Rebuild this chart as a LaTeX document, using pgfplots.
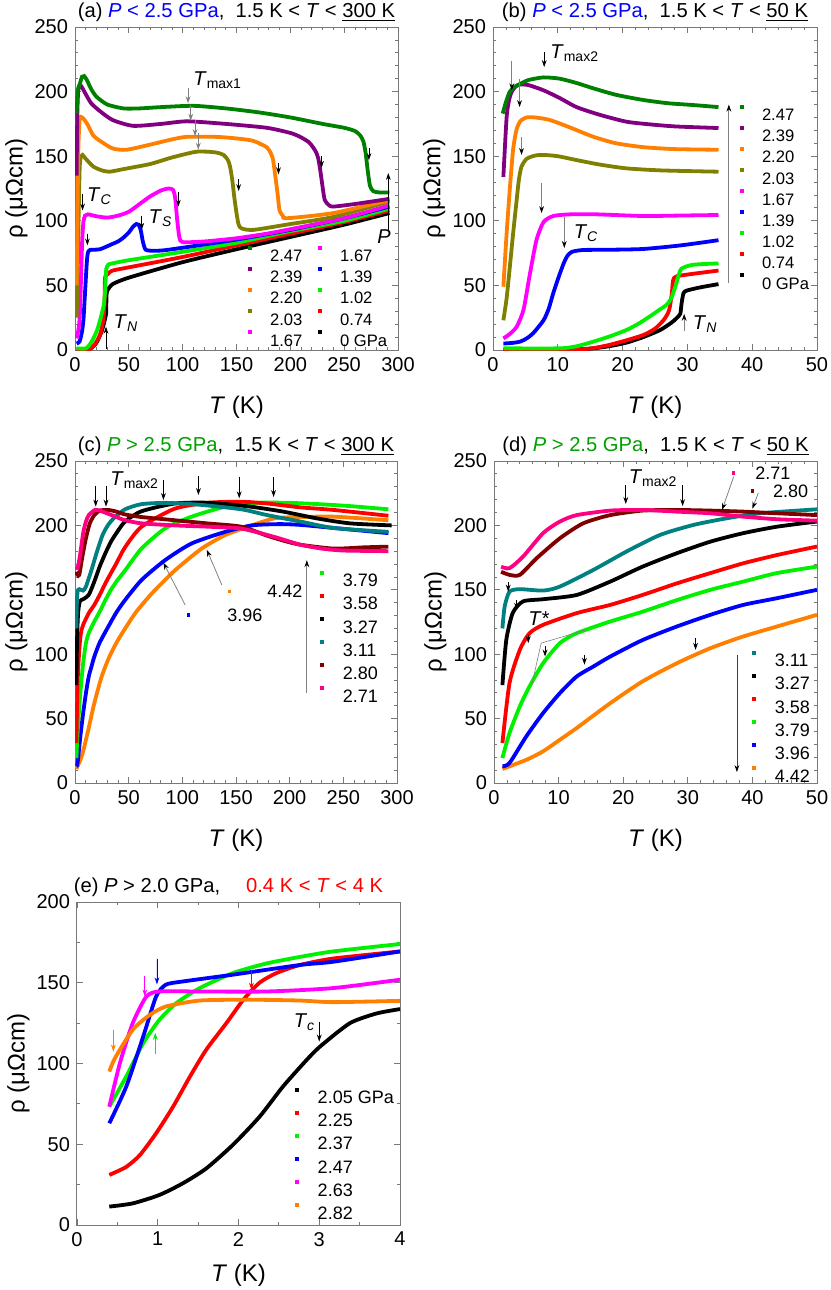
\documentclass[border=0pt]{standalone}
\usepackage{pgfplots}
\pgfplotsset{compat=1.18}
\usepackage{fontspec}
\setmainfont{Liberation Sans}
\usetikzlibrary{arrows.meta}
\definecolor{cDG}{RGB}{0,128,0}
\definecolor{cPU}{RGB}{128,0,128}
\definecolor{cOR}{RGB}{255,128,0}
\definecolor{cOL}{RGB}{128,128,0}
\definecolor{cMA}{RGB}{255,0,255}
\definecolor{cBL}{RGB}{0,0,255}
\definecolor{cLG}{RGB}{0,240,0}
\definecolor{cRE}{RGB}{255,0,0}
\definecolor{cTE}{RGB}{0,128,128}
\definecolor{cMR}{RGB}{128,0,0}
\definecolor{cRO}{RGB}{255,0,128}
\definecolor{cTG}{RGB}{0,160,0}
\definecolor{cFR}{RGB}{120,120,120}
\newcommand{\Tsub}[1]{\textit{T}\textsubscript{#1}}
\newcommand{\legA}{\fontsize{8.3}{10}\selectfont}
\newcommand{\legB}{\fontsize{9}{11}\selectfont}
\tikzset{ar/.style={-{Stealth[length=3.5pt,width=2.4pt]}, line width=0.4pt},
         gar/.style={-{Stealth[length=3.5pt,width=2.4pt,black]}, line width=0.4pt, draw=gray},
         lgr/.style={-{Stealth[length=3.5pt,width=2.4pt]}, line width=0.4pt, draw=gray, fill=gray},
         annot/.style={anchor=base west, inner sep=0pt, font=\fontsize{10}{12}\selectfont}}
\pgfplotsset{
  panel/.style={
    scale only axis, anchor=south west,
    axis line style={cFR, line width=0.5pt},
    every tick/.style={cFR, line width=0.4pt},
    major tick length=3pt, minor tick length=1.7pt,
    tick align=inside, xtick pos=both, ytick pos=both,
    minor x tick num=4, minor y tick num=4,
    ticklabel style={font=\fontsize{10}{12}\selectfont},
    /pgf/number format/assume math mode=true,
    xlabel={\textit{T} (K)}, ylabel={ρ (μΩcm)},
    label style={font=\fontsize{12}{14}\selectfont},
    xlabel style={at={(axis description cs:0.5,-0.12)}, anchor=north},
    ylabel style={at={(axis description cs:-0.125,0.5)}, anchor=south},
    title style={font=\fontsize{10.1}{12}\selectfont, at={(axis description cs:0.5,1)}, anchor=south, yshift=-7pt},
    ymin=0, ymax=250, ytick={0,50,...,250},
    every axis plot/.append style={line width=1.9pt, smooth, tension=0.4, no markers},
    legend image code/.code={\draw[##1, line width=0.2pt, mark=square*, mark size=0.75pt, only marks] plot coordinates {(0pt,0.36em)};},
    legend cell align=left,
  },
  legA/.style={legend style={draw=none, fill=none, inner sep=0pt, outer sep=0pt, font=\legA,
     nodes={inner sep=0pt, text height=0.72em, text depth=0pt}, row sep=2.6pt,
     /tikz/every odd column/.append style={column sep=9.3pt}}},
  legB/.style={legend style={draw=none, fill=none, inner sep=0pt, outer sep=0pt, font=\legB,
     nodes={inner sep=0pt, text height=0.72em, text depth=0pt}, row sep=3.6pt,
     /tikz/every odd column/.append style={column sep=9.7pt}}},
}
\begin{document}
\begin{tikzpicture}
\useasboundingbox (0,0) rectangle (415pt,-645pt);
%================ (a)
\begin{axis}[panel, legA, at={(37.5pt,-175pt)}, width=161.5pt, height=161.5pt,
  xmin=0, xmax=300, xtick={0,50,...,300},
  title={(a) \textcolor{blue}{\textit{P} < 2.5 GPa},\ \ 1.5 K < \textit{T} < \underline{300 K}},
  legend columns=2,
  legend style={at={(0.537,0.3226)}, anchor=north west, /tikz/every even column/.append style={column sep=8.1pt}}]
\addlegendimage{color=cDG}\addlegendentry{2.47}
\addlegendimage{color=cMA}\addlegendentry{1.67}
\addlegendimage{color=cPU}\addlegendentry{2.39}
\addlegendimage{color=cBL}\addlegendentry{1.39}
\addlegendimage{color=cOR}\addlegendentry{2.20}
\addlegendimage{color=cLG}\addlegendentry{1.02}
\addlegendimage{color=cOL}\addlegendentry{2.03}
\addlegendimage{color=cRE}\addlegendentry{0.74}
\addlegendimage{color=cMA}\addlegendentry{1.67}
\addlegendimage{color=black}\addlegendentry{0 GPa}
\addplot[black, forget plot] coordinates {(1.5,0.5) (10,0.8) (15,1.3) (20,5.7) (25,15) (28,24.5) (28.9,28) (29.1,36) (29.4,44) (30,46) (35,51) (50,56) (100,68) (150,78) (200,87.5) (250,97) (292,106)};
\addplot[cRE, forget plot] coordinates {(1.5,0.3) (12.9,0.5) (18,4) (23.2,11.6) (26.3,23) (27.3,33.5) (27.6,44) (27.8,54) (28.3,57) (30.9,59) (34.5,61.4) (50,64) (100,72) (150,81) (200,90) (250,99) (292,108)};
\addplot[cLG, forget plot] coordinates {(1.5,1.3) (10.3,1.3) (15.5,6.5) (20.6,15.5) (24.2,26) (26.8,35) (27.8,44) (28.3,51.6) (28.6,57) (29.1,63) (30.9,66) (34.5,67) (50,69.5) (100,76) (150,83) (200,92) (250,100) (292,109.5)};
\addplot[cBL, forget plot] coordinates {(1.5,5) (4.2,6.5) (6.2,13) (7.8,23) (9.3,44) (10.9,67) (11.9,75) (13.9,77.4) (23.2,78) (34.5,82) (40,84) (45,87) (50,91) (54,95.5) (57,97.5) (59,97) (61,93) (63,84) (65,78.5) (68,77) (85,77.4) (150,85.5) (200,93) (250,102) (292,111)};
\addplot[cMA, forget plot] coordinates {(1.5,9) (3.6,18) (4.7,31) (5.7,59) (6.7,85) (7.8,99) (9.3,104) (12,105) (20,103.5) (30,102.5) (40,104) (50,107) (60,113) (70,119) (80,123.5) (87,125) (91,124) (93,118) (95,100) (97,87) (100,83.5) (120,84) (150,86.5) (178,90) (200,93.5) (250,102) (292,112)};
\addplot[cOL, forget plot] coordinates {(1.5,25) (2.5,60) (3.6,115) (4.4,142) (5.5,150) (7,151) (10,148) (17,142) (25,139) (32,138) (45,140) (70,144) (90,149) (113,153.5) (130,153) (138,151) (142,147) (144,142) (146,132) (148,118) (150,106) (152,97) (155,94) (166,93) (200,97.5) (240,103) (292,115)};
\addplot[cOR, forget plot] coordinates {(1.5,50) (2.1,90) (3.1,155) (4.2,177) (5.2,180.5) (8,179) (12,174) (17,166) (23,162) (35,156) (48,155) (70,159) (90,163) (104,165) (130,165) (147,164) (165,162) (178,157) (182,152) (184,147) (186,135) (188,122) (190,108) (193,104) (197,102) (240,106) (292,116)};
\addplot[cPU, forget plot] coordinates {(1.5,135) (2.1,180) (2.9,200) (4.2,205) (6,204) (10,198) (15,191) (23,185) (35,178) (54,173.5) (80,175) (104,177) (140,175) (178,172) (200,168) (209,165) (217,161) (221,157) (224,153) (226,148) (228,138) (230,126) (232,116) (236,112) (240,111) (260,113) (292,117)};
\addplot[cDG, forget plot] coordinates {(1.5,183) (2.6,201) (4.2,205) (6.5,211.5) (8.5,212) (11,209) (15,202) (20,196) (30,190) (45,187) (60,187) (80,188) (110,189) (140,187) (170,184) (200,180) (230,175) (250,172) (260,169.5) (265,166) (268,161) (270,152) (272,138) (274,127) (277,123) (282,122) (292,122)};
\node[annot] at (axis cs:109.6,205) {\Tsub{max1}};
\draw[lgr] (axis cs:105,203) -- (axis cs:105,191);
\draw[lgr] (axis cs:107.5,190) -- (axis cs:107.5,177.5);
\draw[lgr] (axis cs:111.5,178) -- (axis cs:111.5,165.5);
\draw[lgr] (axis cs:114.5,168) -- (axis cs:114.5,155);
\draw[ar] (axis cs:273,156) -- (axis cs:273,147);
\draw[ar] (axis cs:229,150) -- (axis cs:229,141);
\draw[ar] (axis cs:189,145) -- (axis cs:189,136);
\draw[ar] (axis cs:152,132) -- (axis cs:152,123);
\draw[ar] (axis cs:96,122) -- (axis cs:96,111);
\draw[ar] (axis cs:62,104) -- (axis cs:62,93);
\draw[ar] (axis cs:7,121) -- (axis cs:7,108);
\draw[ar] (axis cs:11.5,90) -- (axis cs:11.5,81);
\draw[ar] (axis cs:28.8,1) -- (axis cs:28.8,18);
\draw[ar] (axis cs:291,92) -- (axis cs:291,137);
\node[annot] at (axis cs:11,115) {\Tsub{\textit{C}}};
\node[annot] at (axis cs:68,98) {\Tsub{\textit{S}}};
\node[annot] at (axis cs:35.5,17) {\Tsub{\textit{N}}};
\node[inner sep=0pt, font=\fontsize{10}{12}\selectfont] at (axis cs:287,88) {\textit{P}};
\end{axis}
%================ (b)
\begin{axis}[panel, legA, at={(246.5pt,-175pt)}, width=162pt, height=161.5pt,
  xmin=0, xmax=50, xtick={0,10,...,50},
  title={(b) \textcolor{blue}{\textit{P} < 2.5 GPa},\ \ 1.5 K < \textit{T} < \underline{50 K}},
  legend style={at={(0.7636,0.759)}, anchor=north west}]
\addlegendimage{color=cDG}\addlegendentry{2.47}
\addlegendimage{color=cPU}\addlegendentry{2.39}
\addlegendimage{color=cOR}\addlegendentry{2.20}
\addlegendimage{color=cOL}\addlegendentry{2.03}
\addlegendimage{color=cMA}\addlegendentry{1.67}
\addlegendimage{color=cBL}\addlegendentry{1.39}
\addlegendimage{color=cLG}\addlegendentry{1.02}
\addlegendimage{color=cRE}\addlegendentry{0.74}
\addlegendimage{color=black}\addlegendentry{0 GPa}
\addplot[black, forget plot] coordinates {(1.6,0.2) (12,0.4) (15.5,1.3) (18,3) (20.6,5.7) (23.2,10) (25.8,15.5) (27.5,21) (28.3,24.5) (28.9,28) (29.1,36) (29.4,44) (29.9,46) (32,48.5) (34.8,51)};
\addplot[cRE, forget plot] coordinates {(1.6,0.2) (12.9,0.5) (15.5,1.5) (18,4) (20.6,7.5) (23.2,11.6) (25,16.5) (26.3,23) (27.0,28.5) (27.3,33.5) (27.6,44) (27.8,54) (28.3,57) (30.9,59) (34.8,61.5)};
\addplot[cLG, forget plot] coordinates {(1.6,1.3) (10.3,1.3) (13,3) (15.5,6.5) (18,10.5) (20.6,15.5) (22.5,20.5) (24.2,26) (25.5,30.5) (26.8,35) (27.5,40) (27.8,44) (28.3,51.6) (28.6,57) (29.1,63) (30.9,66) (34.8,67)};
\addplot[cBL, forget plot] coordinates {(1.6,5) (3,5.5) (4.2,6.5) (5.2,9) (6.2,13) (7.8,23) (8.6,32) (9.3,44) (10.1,56) (10.9,67) (11.5,73) (12.2,76) (13.9,77.4) (18,77.6) (23.2,78.2) (29,81) (34.8,85)};
\addplot[cMA, forget plot] coordinates {(1.6,9) (2.5,12) (3.65,18) (4.7,31) (5.7,59) (6.7,85) (7.8,99) (9.3,103.7) (11.9,105) (16,105) (23.2,103.7) (28,104) (34.8,104.5)};
\addplot[cOL, forget plot] coordinates {(1.6,23) (2.1,40) (2.6,64.5) (3.1,90) (3.65,116) (4.0,132) (4.4,142) (5.2,148) (6.5,150.5) (7.8,151) (10,150) (12.9,147) (16.5,143.5) (20.6,140.6) (26,139) (34.8,138)};
\addplot[cOR, forget plot] coordinates {(1.6,49) (2.1,90) (2.6,125) (3.1,155) (3.6,170) (4.2,177) (5.2,180) (6.5,180) (8.8,178) (12,172) (15.5,165) (19,160) (23.2,157) (28,155.5) (34.8,155)};
\addplot[cPU, forget plot] coordinates {(1.6,134) (2.1,180) (2.5,194) (2.9,200) (3.5,204) (4.2,205.5) (5.5,205) (7.8,201) (10.3,195) (12.9,188) (16.5,182) (20.6,176.7) (24.5,174.5) (28.3,173) (34.8,171.8)};
\addplot[cDG, forget plot] coordinates {(1.5,183) (2.0,192) (2.6,200) (3.3,203.5) (4.2,206) (5.5,209) (7.8,211) (10.3,210) (13,206.5) (15.5,202.5) (19,197.5) (23.2,193.5) (27,191) (30.9,189.6) (34.8,188)};
\node[annot] at (axis cs:8.8,225.7) {\Tsub{max2}};
\draw[ar] (axis cs:7.9,231) -- (axis cs:7.9,219);
\draw[gar] (axis cs:2.9,224) -- (axis cs:2.9,201);
\draw[gar] (axis cs:4.1,210) -- (axis cs:4.1,188);
\draw[gar] (axis cs:4.4,165) -- (axis cs:4.4,151);
\draw[gar] (axis cs:7.5,129) -- (axis cs:7.5,106);
\draw[gar] (axis cs:11,103) -- (axis cs:11,79);
\node[annot] at (axis cs:12.4,86) {\Tsub{\textit{C}}};
\node[annot] at (axis cs:30.8,15.5) {\Tsub{\textit{N}}};
\draw[gar] (axis cs:29.5,15) -- (axis cs:29.5,28);
\draw[gar] (axis cs:36.4,52) -- (axis cs:36.4,190);
\end{axis}
%================ (c)
\begin{axis}[panel, legB, at={(37.5pt,-391.5pt)}, width=161pt, height=161pt,
  xmin=0, xmax=300, xtick={0,50,...,300},
  title={(c) \textcolor{cTG}{\textit{P} > 2.5 GPa},\ \ 1.5 K < \textit{T} < \underline{300 K}},
  legend style={at={(0.762,0.6586)}, anchor=north west}]
\addlegendimage{color=cLG}\addlegendentry{3.79}
\addlegendimage{color=cRE}\addlegendentry{3.58}
\addlegendimage{color=black}\addlegendentry{3.27}
\addlegendimage{color=cTE}\addlegendentry{3.11}
\addlegendimage{color=cMR}\addlegendentry{2.80}
\addlegendimage{color=cRO}\addlegendentry{2.71}
\addplot[cOR, forget plot] coordinates {(1.3,10.9) (5,18) (7.6,24.6) (10.2,33.6) (12.8,42.7) (18,62) (24.8,82.5) (32,98) (40.4,111.5) (56,131.7) (71.4,147) (93,165) (118,182) (140,192.5) (164.6,200) (186,205.5) (210,206.5) (241,206.8) (292,204)};
\addplot[cBL, forget plot] coordinates {(1.3,13) (2.4,15.5) (5,36.2) (7.6,54.3) (10.2,69.8) (12.8,82.7) (15.4,90.5) (18,98.2) (23,109) (31,121.4) (38.6,132.5) (46.6,142) (62,157.6) (83.9,173) (108.7,186) (140,195) (164.6,200) (190,201) (210,200.4) (241,198) (292,194)};
\addplot[cLG, forget plot] coordinates {(1.3,19.4) (2.4,38.8) (4,59.5) (5.5,75) (7.6,93) (10.2,108.6) (12.8,116.3) (18,125.4) (23,133) (28.3,142) (33.5,150) (38.6,156.4) (46.6,165) (62,182) (84,197.7) (108.7,206.8) (140,214.5) (171,217.6) (200,217.5) (225,216.6) (256,215) (292,212.5)};
\addplot[cRE, forget plot] coordinates {(1.3,31) (2.4,77.6) (4,103.4) (5.5,116.3) (7.6,122.8) (12.8,131.9) (18,138.3) (23,146) (28.3,155) (33.5,163) (38.6,170.6) (46.6,183) (62,199) (93,213) (124,217.6) (155,218.4) (179,217) (210,214) (241,212) (292,207.5)};
\addplot[black, forget plot] coordinates {(1.3,76) (1.9,111) (2.9,132) (4.5,141) (7.6,142.7) (12.8,146) (18,156.4) (23,168) (28.3,178.4) (33.5,187.4) (38.6,194) (46.6,203) (62,211) (93,217) (124,217.6) (163,214.6) (194,210.7) (225,205.5) (256,201.6) (295,200)};
\addplot[cTE, forget plot] coordinates {(1.3,120) (1.65,137) (2.4,148.6) (4,150.5) (7.6,149.4) (10.2,152.5) (15.4,165.5) (20.5,179.7) (25.7,192.6) (30.9,200.4) (36,205.5) (46.6,212.5) (62,216.5) (85,217.5) (116.6,216) (155,212.5) (179,208) (210,203) (241,198) (292,195)};
\addplot[cMR, forget plot] coordinates {(1.1,164) (2.4,161.6) (4,161.6) (6.6,174.5) (10.2,190) (13.8,201.6) (18,208) (23,211.5) (31,212) (38.6,210.7) (46.6,208.5) (62,206.5) (93,204) (124,201.5) (155,199) (179,192) (195,188) (210,185) (241,182) (270,183) (292,183.5)};
\addplot[cRO, forget plot] coordinates {(1.1,168) (2.4,166.8) (4.5,175.8) (7.6,194) (10.2,203) (12.8,208) (18.6,212) (23,211.5) (31,209) (38.6,206.5) (46.6,204) (62,201.6) (93,200) (124,199) (155,197.5) (186,191) (210,185) (230,182) (250,180.5) (292,180)};
\node[annot] at (axis cs:32.6,230.6) {\Tsub{max2}};
\draw[ar] (axis cs:19.3,230.6) -- (axis cs:19.3,214.6);
\draw[ar] (axis cs:28.9,230.6) -- (axis cs:28.9,214.6);
\draw[ar] (axis cs:82.4,235.3) -- (axis cs:82.4,219.7);
\draw[ar] (axis cs:115,238.4) -- (axis cs:115,223.6);
\draw[ar] (axis cs:153,237.8) -- (axis cs:153,221);
\draw[ar] (axis cs:185,237.8) -- (axis cs:185,222);
\draw[gar] (axis cs:102.6,138.3) -- (axis cs:82.4,171);
\draw[gar] (axis cs:136.8,153.8) -- (axis cs:122.8,181);
\node[anchor=base west, inner sep=0pt, font=\legB] at (axis cs:142.0,144) {\textcolor{cOR}{\rule[2.4pt]{1.6pt}{1.6pt}}\hspace{18.2pt}4.42};
\node[anchor=base west, inner sep=0pt, font=\legB] at (axis cs:103.8,125.4) {\textcolor{cBL}{\rule[2.4pt]{1.6pt}{1.6pt}}\hspace{18.7pt}3.96};
\draw[gar] (axis cs:216,70) -- (axis cs:216,173);
\end{axis}
%================ (d)
\begin{axis}[panel, legB, at={(247pt,-391.5pt)}, width=161.5pt, height=161pt,
  xmin=0, xmax=50, xtick={0,10,...,50},
  title={(d) \textcolor{cTG}{\textit{P} > 2.5 GPa},\ \ 1.5 K < \textit{T} < \underline{50 K}},
  legend style={at={(0.8,0.41)}, anchor=north west}]
\addlegendimage{color=cTE}\addlegendentry{3.11}
\addlegendimage{color=black}\addlegendentry{3.27}
\addlegendimage{color=cRE}\addlegendentry{3.58}
\addlegendimage{color=cLG}\addlegendentry{3.79}
\addlegendimage{color=cBL}\addlegendentry{3.96}
\addlegendimage{color=cOR}\addlegendentry{4.42}
\addplot[cOR, forget plot] coordinates {(1.3,10.9) (5,18) (7.6,24.6) (10.2,33.6) (12.8,42.7) (18,62) (23,78.9) (28.3,93) (33.5,104.7) (38.6,113.8) (43.8,121.5) (50,130.6)};
\addplot[cBL, forget plot] coordinates {(1.3,13) (2.4,15.5) (5,36.2) (7.6,54.3) (10.2,69.8) (12.8,82.7) (15.4,90.5) (18,98.2) (23,111) (28.3,121.5) (33.5,130.6) (38.6,138.3) (43.8,143.5) (50,150)};
\addplot[cLG, forget plot] coordinates {(1.3,19.4) (2.4,38.8) (4,59.5) (5.5,75) (7.6,93) (10.2,108.6) (12.8,116.3) (18,125.4) (23,133) (28.3,142) (33.5,150) (38.6,156.4) (43.8,163) (50,168)};
\addplot[cRE, forget plot] coordinates {(1.3,31) (2.4,77.6) (4,103.4) (5.5,116.3) (7.6,122.8) (12.8,131.9) (18,138.3) (23,146) (28.3,155) (33.5,163) (38.6,170.6) (43.8,177) (50,183.6)};
\addplot[black, forget plot] coordinates {(1.3,76) (1.9,111) (2.9,132) (4.5,141) (7.6,142.7) (12.8,146) (18,156.4) (23,168) (28.3,178.4) (33.5,187.4) (38.6,194) (43.8,199) (50,203)};
\addplot[cTE, forget plot] coordinates {(1.3,120) (1.65,137) (2.4,148.6) (4,150.5) (7.6,149.4) (10.2,152.5) (15.4,165.5) (20.5,179.7) (25.7,192.6) (30.9,200.4) (36,205.5) (41.2,209.4) (50,212.5)};
\addplot[cMR, forget plot] coordinates {(1.1,164) (2.4,161.6) (4,161.6) (6.6,174.5) (10.2,190) (13.8,201.6) (18,208) (23,211.5) (28.3,212) (33.5,211.5) (38.6,210.7) (43.8,209.4) (50,208)};
\addplot[cRO, forget plot] coordinates {(1.1,168) (2.4,166.8) (4.5,175.8) (7.6,194) (10.2,203) (12.8,208) (18,211.5) (23,212) (28.3,210.7) (33.5,209.4) (38.6,206.8) (43.8,204.8) (50,203.7)};
\node[annot] at (axis cs:20.8,232.7) {\Tsub{max2}};
\draw[ar] (axis cs:20.4,231) -- (axis cs:20.4,216.6);
\draw[ar] (axis cs:29.2,231) -- (axis cs:29.2,215);
\draw[gar] (axis cs:37.1,237.8) -- (axis cs:35.3,212);
\draw[gar] (axis cs:40.9,225) -- (axis cs:40,213);
\node[anchor=base west, inner sep=0pt, font=\legB] at (axis cs:36.75,235.7) {\textcolor{cRO}{\rule[2.4pt]{1.6pt}{1.6pt}}\hspace{10.2pt}2.71};
\node[anchor=base west, inner sep=0pt, font=\legB] at (axis cs:39.65,221.7) {\textcolor{cMR}{\rule[2.4pt]{1.6pt}{1.6pt}}\hspace{9.7pt}2.80};
\draw[ar] (axis cs:2.2,156) -- (axis cs:2.2,148.6);
\draw[ar] (axis cs:3.5,142) -- (axis cs:3.5,134.4);
\draw[ar] (axis cs:5.3,115) -- (axis cs:5.3,108.6);
\draw[ar] (axis cs:7.9,106) -- (axis cs:7.9,98.2);
\draw[ar] (axis cs:14,99.5) -- (axis cs:14,91.8);
\draw[ar] (axis cs:31.2,112.5) -- (axis cs:31.2,103.4);
\node[annot] at (axis cs:5.27,122) {\textit{T}*};
\draw[gray, line width=0.3pt] (axis cs:14.3,119) -- (axis cs:7.3,108.6) -- (axis cs:5.8,75);
\draw[gar, draw=darkgray] (axis cs:37.6,99.4) -- (axis cs:37.6,8.5);
\end{axis}
%================ (e)
\begin{axis}[panel, legB, at={(38.5pt,-612.5pt)}, width=161.5pt, height=161.5pt,
  xmin=0, xmax=4, xtick={0,1,...,4}, minor x tick num=1,
  ymin=0, ymax=200, ytick={0,50,...,200}, minor y tick num=1,
  xlabel style={at={(axis description cs:0.5,-0.099)}},
  title style={xshift=-5pt},
  title={(e) \textit{P} > 2.0 GPa,\quad\ \textcolor{red}{0.4 K < \textit{T} < 4 K}},
  legend style={at={(0.676,0.4248)}, anchor=north west}]
\addlegendimage{color=black}\addlegendentry{2.05 GPa}
\addlegendimage{color=cRE}\addlegendentry{2.25}
\addlegendimage{color=cLG}\addlegendentry{2.37}
\addlegendimage{color=cBL}\addlegendentry{2.47}
\addlegendimage{color=cMA}\addlegendentry{2.63}
\addlegendimage{color=cOR}\addlegendentry{2.82}
\addplot[black, forget plot] coordinates {(0.4,11.4) (0.69,13.4) (1.02,18.6) (1.31,25.8) (1.6,35) (1.93,49.6) (2.26,67) (2.55,85.7) (2.84,102) (3.01,110.5) (3.38,125) (3.71,131) (4,133.7)};
\addplot[cRE, forget plot] coordinates {(0.4,31) (0.61,36) (0.78,43.4) (0.98,56.8) (1.19,73.3) (1.4,92) (1.6,108.5) (1.85,125) (2.06,139.5) (2.26,150) (2.47,156) (2.76,161) (3.17,165) (4,169.4)};
\addplot[cLG, forget plot] coordinates {(0.4,73.3) (0.61,92) (0.82,112.6) (1.02,127) (1.23,137.4) (1.52,146.7) (1.93,156) (2.35,162) (2.76,166) (3.17,169.4) (4,174)};
\addplot[cBL, forget plot] coordinates {(0.4,63) (0.61,85.7) (0.82,116.7) (0.98,141.5) (1.1,148.8) (1.31,150.8) (1.93,155) (2.76,161) (3.17,163) (4,169.4)};
\addplot[cMA, forget plot] coordinates {(0.4,73.3) (0.53,100) (0.69,125) (0.86,141.5) (1.02,144.6) (1.52,144.6) (2.35,144.6) (3.17,146.7) (4,151.9)};
\addplot[cOR, forget plot] coordinates {(0.4,95) (0.47,103.3) (0.69,120.9) (0.9,130) (1.1,135.3) (1.52,139) (2.14,139.5) (2.76,139) (3.17,138) (4,138.8)};
\node[annot] at (axis cs:2.68,122.5) {\Tsub{\textit{c}}};
\draw[ar] (axis cs:3.0,126) -- (axis cs:3.0,113.6);
\draw[ar, draw=cOR, fill=cOR] (axis cs:0.45,121) -- (axis cs:0.45,107.4);
\draw[ar, draw=cMA, fill=cMA] (axis cs:0.84,154) -- (axis cs:0.84,141.5);
\draw[ar, draw=cBL, fill=cBL] (axis cs:0.99,165) -- (axis cs:0.99,149);
\draw[ar, draw=cRE, fill=cRE] (axis cs:2.16,158) -- (axis cs:2.16,145.7);
\draw[ar, draw=cLG, fill=cLG] (axis cs:0.97,106) -- (axis cs:0.97,119);
\end{axis}
\end{tikzpicture}
\end{document}
